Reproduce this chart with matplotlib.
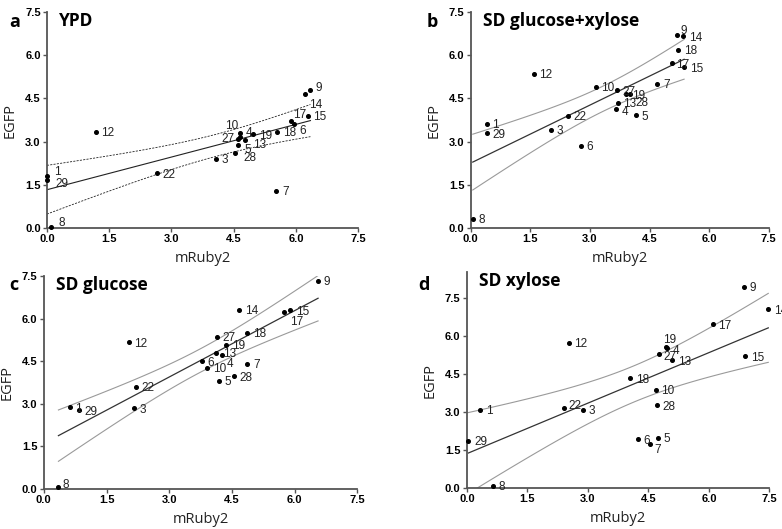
import numpy as np
import matplotlib.pyplot as plt

plt.rcParams['font.family'] = ['Liberation Sans', 'DejaVu Sans']

# panel a - YPD
a_ids = ['1', '29', '8', '12', '22', '3', '28', '5', '27', '13', '4', '10', '19', '18', '17', '6', '15', '14', '9', '7']
a_x = [0.0, 0.0, 0.10, 1.18, 2.65, 4.08, 4.53, 4.60, 4.60, 4.77, 4.65, 4.65, 4.97, 5.55, 5.87, 5.95, 6.29, 6.22, 6.35, 5.53]
a_y = [1.79, 1.68, 0.02, 3.35, 1.90, 2.41, 2.61, 2.90, 3.10, 3.07, 3.15, 3.30, 3.25, 3.34, 3.72, 3.61, 3.89, 4.67, 4.78, 1.29]

# panel b - SD glucose+xylose
b_ids = ['1', '29', '8', '12', '22', '3', '6', '10', '27', '19', '28', '13', '4', '5', '7', '17', '15', '18', '14', '9']
b_x = [0.40, 0.40, 0.05, 1.58, 2.44, 2.03, 2.77, 3.15, 3.67, 3.91, 4.01, 3.70, 3.65, 4.15, 4.70, 5.06, 5.37, 5.22, 5.35, 5.18]
b_y = [3.62, 3.29, 0.31, 5.36, 3.89, 3.41, 2.86, 4.91, 4.78, 4.64, 4.64, 4.36, 4.14, 3.91, 5.00, 5.72, 5.59, 6.19, 6.66, 6.70]

# panel c - SD glucose
c_ids = ['1', '29', '8', '12', '22', '3', '6', '10', '13', '4', '27', '19', '5', '28', '7', '18', '14', '17', '15', '9']
c_x = [0.62, 0.84, 0.35, 2.03, 2.20, 2.15, 3.78, 3.91, 4.13, 4.27, 4.14, 4.36, 4.18, 4.55, 4.87, 4.86, 4.67, 5.75, 5.90, 6.56]
c_y = [2.88, 2.77, 0.06, 5.17, 3.61, 2.84, 4.51, 4.28, 4.80, 4.72, 5.37, 5.08, 3.81, 3.98, 4.41, 5.51, 6.33, 6.25, 6.30, 7.34]

# panel d - SD xylose
d_ids = ['1', '29', '8', '12', '22', '3', '18', '10', '28', '6', '7', '5', '27', '19', '4', '13', '17', '15', '9', '14']
d_x = [0.33, 0.04, 0.64, 2.52, 2.41, 2.87, 4.05, 4.68, 4.72, 4.23, 4.55, 4.73, 4.76, 4.93, 4.96, 5.09, 6.09, 6.90, 6.86, 7.47]
d_y = [3.07, 1.85, 0.09, 5.73, 3.17, 3.09, 4.32, 3.86, 3.26, 1.92, 1.73, 1.97, 5.27, 5.54, 5.50, 5.03, 6.45, 5.18, 7.93, 7.03]

ticks = [0.0, 1.5, 3.0, 4.5, 6.0, 7.5]

# label offsets in points (default is just right of the dot)
offs_a = {'9': (4, 2), '14': (3, -8), '17': (2, 4), '6': (4, -5), '10': (-1, 5, 'right'),
          '27': (-2, 0, 'right'), '4': (4, 3), '13': (6, -4), '5': (5, -4), '28': (6, -4),
          '29': (6, -3), '1': (5, 3), '8': (5, 3)}
offs_b = {'9': (3, 3), '17': (3, -1), '28': (4, -6), '4': (4, -2)}
offs_c = {'17': (4, -7), '13': (5, -1), '4': (3, -6), '8': (3, 2)}
offs_d = {'19': (-2, 5), '4': (4, -2), '27': (3, -2), '22': (3, 1), '7': (3, -4)}


def panel(ax, xs, ys, ids, offs, title, letter, ymax, dashed):
    xs = np.array(xs)
    ys = np.array(ys)
    n = len(xs)
    slope, icpt = np.polyfit(xs, ys, 1)
    xf = np.linspace(xs.min(), xs.max(), 100)
    yf = icpt + slope * xf
    res = ys - (icpt + slope * xs)
    s = np.sqrt(np.sum(res ** 2) / (n - 2))
    se = s * np.sqrt(1.0 / n + (xf - xs.mean()) ** 2 / np.sum((xs - xs.mean()) ** 2))
    t = 2.1
    if dashed:
        ax.plot(xf, yf, color='#222222', lw=0.8)
        ax.plot(xf, yf + t * se, color='#222222', lw=0.6, ls=(0, (2.5, 1.5)))
        ax.plot(xf, yf - t * se, color='#222222', lw=0.6, ls=(0, (2.5, 1.5)))
    else:
        ax.plot(xf, yf, color='#333333', lw=0.9)
        ax.plot(xf, yf + t * se, color='#9a9a9a', lw=0.8)
        ax.plot(xf, yf - t * se, color='#9a9a9a', lw=0.8)
    ax.plot(xs, ys, 'o', color='black', ms=2.6, clip_on=False, zorder=3)
    for xi, yi, lab in zip(xs, ys, ids):
        o = offs.get(lab, (4, -1))
        ha = o[2] if len(o) > 2 else 'left'
        ax.annotate(lab, (xi, yi), xytext=(o[0], o[1]), textcoords='offset points',
                    ha=ha, va='center', fontsize=8.5, color='#222222',
                    annotation_clip=False)
    ax.set_xlim(0, 7.5)
    ax.set_ylim(0, ymax)
    ax.set_xticks(ticks)
    ax.set_yticks(ticks)
    ax.set_xticklabels([f'{v:.1f}' for v in ticks], fontweight='bold', fontsize=8)
    ax.set_yticklabels([f'{v:.1f}' for v in ticks], fontweight='bold', fontsize=8)
    for sp in ['top', 'right']:
        ax.spines[sp].set_visible(False)
    for sp in ['left', 'bottom']:
        ax.spines[sp].set_color('#555555')
        ax.spines[sp].set_linewidth(1.3)
    ax.tick_params(length=3, width=1.0, color='#555555', pad=1.5)
    ax.set_xlabel('mRuby2', fontsize=10.5, family=['Open Sans', 'DejaVu Sans'], color='#222222', labelpad=5)
    ax.set_ylabel('EGFP', fontsize=10.5, family=['Open Sans', 'DejaVu Sans'], color='#222222', labelpad=5)
    ax.text(0.04, 1.0, title, transform=ax.transAxes, fontsize=12.5, fontweight='bold',
            family=['Open Sans', 'DejaVu Sans'], va='top', ha='left')
    return letter


fig = plt.figure(figsize=(7.82, 5.29), dpi=100)
ax_a = fig.add_axes([0.060, 0.569, 0.398, 0.408])
ax_b = fig.add_axes([0.602, 0.569, 0.381, 0.408])
ax_c = fig.add_axes([0.056, 0.0756, 0.401, 0.402])
ax_d = fig.add_axes([0.597, 0.0775, 0.387, 0.408])

panel(ax_a, a_x, a_y, a_ids, offs_a, 'YPD', 'a', 7.5, True)
panel(ax_b, b_x, b_y, b_ids, offs_b, 'SD glucose+xylose', 'b', 7.5, False)
panel(ax_c, c_x, c_y, c_ids, offs_c, 'SD glucose', 'c', 7.5, False)
panel(ax_d, d_x, d_y, d_ids, offs_d, 'SD xylose', 'd', 8.5, False)

for lt, px, py in [('a', 0.012, 0.975), ('b', 0.545, 0.975), ('c', 0.012, 0.478), ('d', 0.535, 0.478)]:
    fig.text(px, py, lt, fontsize=13, fontweight='bold', va='top', ha='left',
             family=['Open Sans', 'DejaVu Sans'])

fig.savefig('out.png', dpi=100)
